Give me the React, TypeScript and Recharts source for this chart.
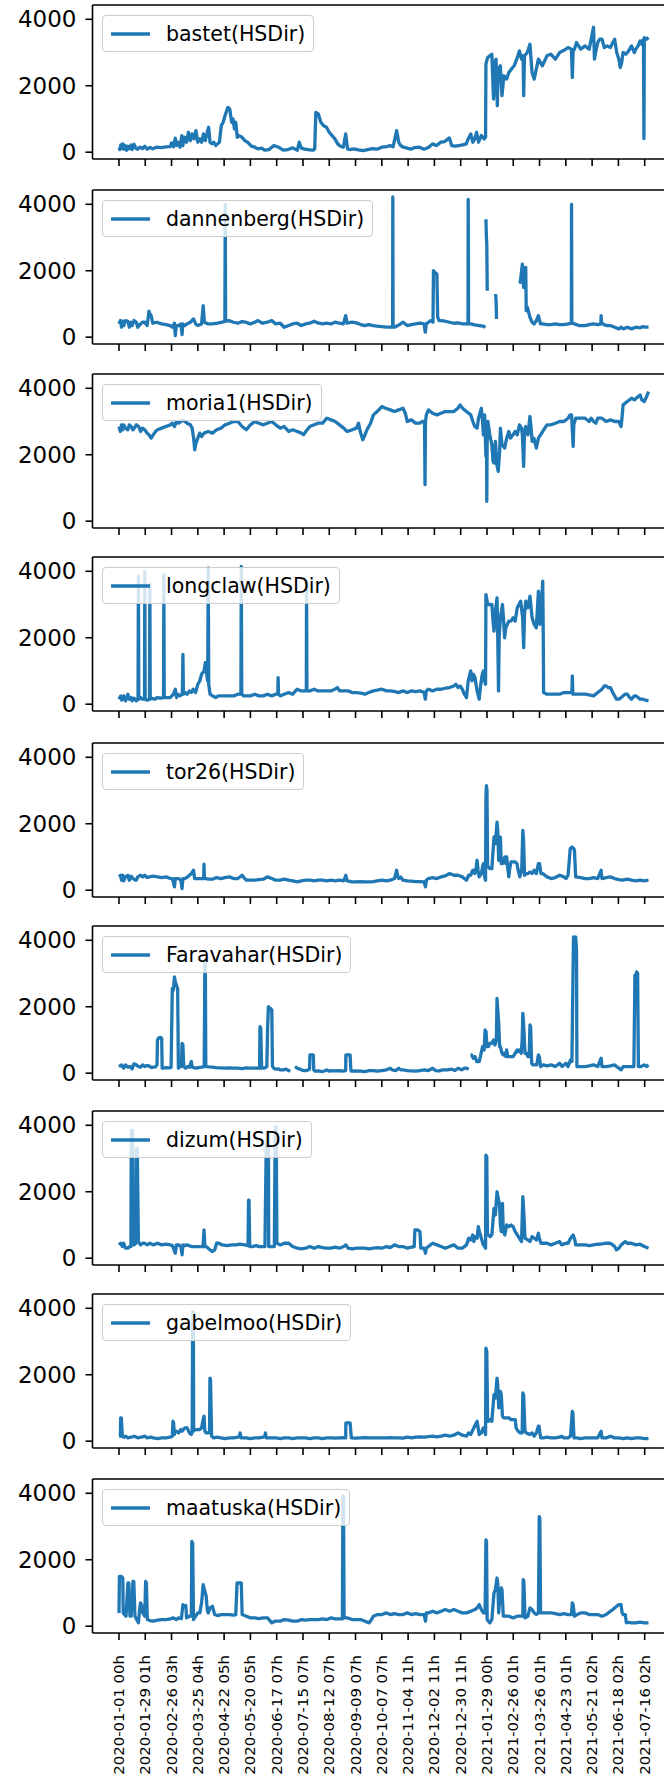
import React from 'react';
import { LineChart, Line, XAxis, YAxis, ReferenceLine } from 'recharts';

type Pt = [number, number | null];

const tickLabels = [
  '2020-01-01 00h', '2020-01-29 01h', '2020-02-26 03h', '2020-03-25 04h', '2020-04-22 05h',
  '2020-05-20 05h', '2020-06-17 07h', '2020-07-15 07h', '2020-08-12 07h', '2020-09-09 07h',
  '2020-10-07 07h', '2020-11-04 11h', '2020-12-02 11h', '2020-12-30 11h', '2021-01-29 00h',
  '2021-02-26 01h', '2021-03-26 01h', '2021-04-23 01h', '2021-05-21 02h', '2021-06-18 02h',
  '2021-07-16 02h',
];
const tickDays = tickLabels.map((_, i) => i * 28);
const yTicks = [0, 2000, 4000];

const bastet: Pt[] = [[0,130],[0.9,80],[2,220],[3,120],[4.1,250],[5,90],[6.5,200],[8,60],[9.5,180],[11,100],[13,220],[14,80],[16,240],[18,120],[20,90],[22,150],[25,110],[27.5,180],[30,90],[33,140],[36,100],[40,150],[45,140],[50,160],[54.6,170],[56,280],[58,160],[60,420],[61.3,200],[63,300],[65,150],[67,500],[68,200],[70,450],[72,300],[74,600],[76,350],[78,550],[80,400],[82,650],[84,300],[86,400],[88,300],[90,550],[92,350],[94,600],[95.5,750],[97,300],[99,250],[101,300],[103,200],[105,250],[107,300],[109,800],[111,900],[113,1100],[116,1350],[118,1300],[120,900],[121.5,1000],[123,700],[124.4,900],[126,450],[128,500],[131,450],[134,350],[137,300],[141,180],[144.7,150],[148,100],[152,120],[155,60],[160,80],[165,200],[170,150],[175,60],[180,80],[185,130],[190,60],[192,300],[194.3,120],[198,90],[203,70],[207,60],[208.5,100],[209.7,1200],[212.4,1150],[215,900],[218,800],[221,750],[224,600],[227,500],[230,400],[233,250],[236,180],[239,150],[241.5,550],[243.5,100],[246,80],[250,100],[255,70],[260,50],[265,80],[270,110],[275,90],[280,150],[285,170],[289,200],[292,160],[295.8,650],[298,300],[300,200],[303,150],[307,120],[311,90],[315,140],[320,150],[325,90],[330,150],[334,250],[338,200],[343,300],[347,320],[352,430],[354.4,200],[358,180],[362,200],[366,220],[370,250],[372,400],[374.7,550],[377,300],[379,400],[381,600],[383,300],[386,500],[389,400],[390.5,450],[390.9,2650],[392.7,2850],[395,2900],[397.2,2950],[399,1600],[400,2700],[401.7,2800],[403,1400],[404,2500],[406.3,2600],[408,1700],[410,2300],[413,2200],[415.3,2400],[418,2500],[421,2600],[425,2900],[426.6,3050],[428.8,2800],[430.5,2900],[431.1,1700],[432,2900],[435,3000],[437.8,3250],[440,2400],[442.3,2200],[446.8,2800],[451,2600],[455.9,2900],[460,2950],[464.9,2800],[469.4,3000],[473,3050],[478.4,3150],[482,3100],[482.9,2250],[483.8,3050],[485.2,3100],[487.4,3300],[491.9,3100],[496.4,3200],[500.9,3100],[505.5,3760],[506.5,2800],[507.7,3000],[510,3300],[512,3400],[514.5,3400],[517,3150],[520,3200],[523.5,3150],[526,3300],[528,3400],[530.2,3000],[532.5,2800],[534,2550],[535.5,2700],[537,3000],[540,2950],[543,3050],[546,3200],[549,3000],[550.6,3100],[553,3200],[555.1,3350],[557,3250],[558.7,3400],[559.2,410],[559.6,3450],[562,3400],[564.1,3450]];

const dannenberg: Pt[] = [[0,400],[1.5,500],[2.7,300],[4,480],[5,350],[7,500],[9.5,480],[11,300],[13,450],[14,350],[16,500],[18.5,450],[20,300],[23,400],[25,450],[27.5,450],[30,350],[32,780],[33,700],[34.3,650],[36,420],[40,450],[45.5,400],[50,380],[54.6,350],[57,300],[59.1,420],[60,50],[61,350],[63.6,350],[66,400],[67.2,80],[68,400],[70,350],[72.6,400],[76,450],[79.4,550],[81.6,400],[83.9,350],[88,400],[89.7,950],[91,450],[95,400],[99.6,400],[105,420],[110,450],[112.8,480],[113.2,4000],[113.6,480],[117,500],[122,450],[126.7,420],[131,470],[135,450],[140,400],[144.7,450],[148,500],[153,420],[158,450],[162.8,500],[167,400],[171.8,420],[176,300],[180.8,350],[185,400],[189.9,420],[194,350],[198.9,400],[203,420],[207.9,480],[212,430],[216.9,400],[221,420],[225.9,400],[230,450],[234.9,420],[239,400],[241.5,650],[243,420],[248,450],[253,430],[257.5,380],[262,350],[266,380],[271,350],[275,330],[280,320],[285,300],[289,300],[291.5,300],[291.7,4220],[292,300],[293.5,300],[297,350],[300,400],[302.6,450],[307,350],[311.6,380],[316,400],[320.6,420],[325,400],[326.3,150],[327.4,400],[329.6,450],[332,500],[334.5,450],[335,2000],[336.5,1950],[338.6,1900],[339.5,600],[341,500],[343.1,500],[347.6,480],[352.2,450],[356.7,420],[361.2,430],[366,400],[370,400],[371.8,420],[372,4150],[372.4,400],[374.7,400],[379,370],[383.7,350],[388,330],[390.5,300],[390.7,null],[390.9,3550],[391.4,3000],[391.8,2800],[392.3,1400],[392.6,null],[401.2,1300],[401.7,1100],[402.2,550],[402.5,null],[426.6,1700],[427.5,1650],[429.7,2200],[431,1500],[433.3,2100],[433.8,800],[435,900],[437.8,600],[440,450],[442.3,400],[444.6,500],[446.8,650],[449,400],[451.4,400],[455.9,380],[460.4,380],[464.9,400],[469.4,380],[473.9,380],[478.4,400],[481.9,420],[482.1,4000],[482.4,420],[485.2,400],[490,350],[496.4,350],[500.9,380],[505.5,400],[510,380],[513.3,400],[513.6,650],[514,420],[516.7,380],[520,350],[523.5,350],[528,300],[532.5,250],[535,300],[537,250],[541.5,300],[546,250],[550.6,300],[555,280],[558,320],[560,300],[564.1,300]];

const moria1: Pt[] = [[0,2850],[1.5,2700],[2.7,2900],[4,2750],[5,2900],[7,2800],[9.5,2750],[11,2900],[13,2850],[15,2750],[18.5,2900],[21,2850],[23,2700],[25,2800],[27.5,2750],[30,2650],[32,2600],[34.3,2500],[36.5,2600],[39,2700],[41,2750],[45.5,2800],[50,2850],[54.6,2900],[57,2950],[59,2850],[61.3,3000],[63.6,2950],[68,3050],[72.6,2950],[76,2900],[78,2800],[79.5,2500],[80.7,2150],[81.6,2300],[83.9,2500],[86,2650],[88,2550],[90.6,2650],[95,2700],[99.6,2650],[104,2750],[108.7,2800],[113,2900],[117.7,2950],[122,3000],[126.7,3000],[131.2,2850],[135.7,2750],[140,2900],[144.7,3000],[149,2950],[153.8,2900],[158,2950],[162.8,3000],[167,2900],[171.8,2800],[176,2850],[180.8,2700],[185,2750],[189.9,2700],[194.3,2650],[196.6,2600],[199,2700],[203.4,2850],[207.9,2900],[212,2950],[216.9,2950],[221.4,3100],[225.9,3050],[230.4,3000],[234.9,2900],[239.4,2800],[243,2700],[248.4,2750],[253,2800],[255.2,2950],[257,2700],[259.7,2450],[262,2600],[264.2,2750],[268,2950],[271,3200],[275,3300],[280,3450],[284,3400],[289,3350],[293.5,3300],[298,3350],[302.6,3400],[305,3250],[307.1,3000],[311.6,3050],[316,2950],[320.6,2950],[323,3000],[325.5,3000],[326,1100],[326.5,3000],[327.4,3200],[329.6,3350],[334,3250],[338.6,3200],[343.1,3250],[347.6,3300],[352.2,3300],[356.7,3300],[361,3400],[363.4,3500],[366,3400],[370.2,3300],[374.7,3200],[377,3000],[379,2850],[381.5,2800],[383,3100],[386,3400],[387.3,3000],[388.2,2600],[389.5,3200],[390.9,1950],[391.5,3000],[391.8,600],[392.3,2800],[393,3000],[395,2600],[397.2,2300],[398.5,1800],[399.5,1750],[401,2400],[402.5,1700],[404,1500],[405.5,2100],[406.3,2800],[408,2300],[410.8,2200],[413,2500],[415.3,2700],[417,2500],[419.8,2600],[422,2700],[424.3,2600],[426.6,2900],[428.8,2800],[429.7,2600],[431.1,1650],[432,2700],[433.3,2850],[435.6,2600],[437.8,3150],[439,2800],[440.1,2400],[442,2500],[444.6,2200],[446.8,2500],[449,2600],[451.4,2700],[455.9,2900],[460.4,2900],[464.9,2950],[469.4,3000],[473.9,3000],[478.4,3100],[480.5,3200],[482.1,3200],[483.8,2250],[484.5,2900],[486.5,3100],[491.9,3100],[496.4,3100],[500.9,3000],[503,3100],[505.5,3000],[508,2950],[510,3100],[514.5,3100],[519,3000],[523.5,3050],[528,3000],[532.5,3000],[534.8,2850],[535.5,3000],[537,3500],[541.5,3600],[546,3700],[549,3650],[551,3700],[555.1,3800],[557,3650],[559.6,3600],[562,3750],[564.1,3900]];

const longclaw: Pt[] = [[0,150],[1.8,250],[3,120],[5,250],[7,100],[9.5,300],[11,150],[13,200],[14,100],[16,180],[18.5,100],[20.3,150],[20.7,3850],[21.1,150],[23,200],[25,150],[27.2,150],[27.5,4000],[27.9,150],[30,120],[32.5,150],[32.9,3600],[33.3,150],[35,180],[38,150],[41,200],[44,180],[47.5,200],[47.8,3900],[48.2,200],[51,200],[54.6,200],[58,300],[60,450],[61.3,200],[63,300],[65,250],[67.5,300],[68.1,1500],[68.7,300],[70.3,350],[72.6,300],[75,400],[77.1,350],[79,450],[81.6,350],[84,600],[86.1,700],[88,900],[90.6,1000],[92,1250],[93,1000],[94.5,700],[95.1,4100],[95.6,600],[97,300],[99.6,250],[103,200],[106,250],[108.7,250],[113,250],[117.7,250],[122,250],[126.7,300],[129.9,300],[130.3,4150],[130.8,300],[133,250],[135.7,250],[140,250],[144.7,300],[149,250],[153.8,250],[158,300],[162.8,250],[167,300],[169.2,300],[169.5,800],[170,300],[171.8,250],[176,300],[180.8,350],[185,300],[189.9,450],[194,400],[198.9,400],[199.6,400],[199.8,3700],[200.2,400],[203.4,400],[207.9,450],[212,400],[216.9,400],[221.4,400],[225.9,400],[230,450],[232.7,500],[234.9,400],[239.4,400],[244,400],[248.4,350],[253,350],[257.5,330],[262,300],[266,350],[271,400],[275,420],[280,450],[285,400],[289,400],[294,380],[298,350],[302.6,400],[307,350],[311.6,400],[316,380],[320.6,400],[325.1,350],[326.3,150],[327.4,400],[329.6,450],[334,400],[338.6,450],[343.1,450],[347.6,480],[352.2,500],[356.7,550],[358.9,600],[361.2,500],[363.4,550],[365.7,450],[368,300],[370.2,200],[372,700],[374.7,1000],[376,700],[377.5,900],[379.2,800],[381.5,400],[383.7,150],[385,500],[387,900],[388.2,1000],[389.5,700],[390.5,600],[390.9,3300],[392.7,3000],[395,3000],[397.2,3000],[398.5,2500],[399.5,2200],[401,2800],[402.7,3200],[403.5,2000],[404.3,400],[405,2000],[406.3,2600],[408.5,3000],[410,2400],[410.8,2000],[412,2300],[415.3,2500],[417.6,2500],[419.8,2600],[422,2500],[424.3,2900],[426,3000],[427.9,3100],[430,2600],[431.1,1700],[432,2700],[433.3,3100],[435.6,2900],[437.8,3250],[440.1,2600],[442.3,2400],[444.6,2300],[446.8,3400],[448.5,2400],[449.5,2800],[451.4,3700],[452,2000],[452.3,350],[455.9,300],[460.4,300],[464.9,300],[469.4,300],[473.9,350],[478.4,350],[482.5,350],[482.9,850],[483.5,300],[485.6,300],[491.9,300],[496.4,300],[500.9,280],[505.5,250],[510,350],[514.5,450],[517,550],[519,550],[521,500],[523.5,500],[526,350],[528,250],[530,150],[532.5,150],[535,200],[537,250],[539,300],[541.5,300],[544,200],[546,150],[549,250],[550.6,250],[553,200],[555.1,150],[558,150],[561,120],[564.1,100]];

const tor26: Pt[] = [[0,400],[1.8,450],[2.7,300],[4.1,450],[5,280],[7,400],[9.5,450],[11,300],[13,420],[15,350],[17.6,300],[18.5,300],[20,400],[23,450],[25.3,400],[27.5,450],[30,380],[32,400],[36.5,420],[41,400],[45.5,380],[50,400],[54.6,350],[57,350],[59.1,100],[60,350],[63.6,350],[66,300],[67.2,50],[68,350],[70.3,350],[73,400],[77.1,500],[79.4,600],[80.5,350],[83.9,350],[88,350],[90.2,350],[90.6,780],[91,350],[92.9,350],[95,330],[99.6,330],[104,380],[108.7,350],[113,380],[117.7,400],[122,350],[126.7,350],[131.2,450],[133,380],[135.7,300],[140,300],[144.7,300],[149,320],[153.8,330],[158,400],[162.8,350],[167,300],[171.8,300],[176,330],[180.8,300],[185,280],[189.9,250],[194.3,280],[198.9,300],[203.4,300],[207.9,280],[212.4,300],[216.9,300],[221.4,280],[225.9,300],[230.4,280],[234.9,300],[239.4,280],[241.7,450],[243,280],[248.4,250],[253,250],[257.5,260],[262,250],[266.5,250],[271,260],[275,280],[280,300],[285,280],[289,300],[293.5,350],[295.8,600],[297,400],[298,350],[300,400],[302.6,300],[307.1,280],[311.6,270],[316,260],[320.6,260],[325.1,250],[326.5,100],[327.4,300],[329.6,350],[334,380],[338.6,350],[343.1,400],[347.6,430],[352.2,500],[356.7,450],[361.2,450],[365.7,400],[370.2,300],[372.5,450],[374.7,450],[376.9,600],[379.2,500],[380.5,700],[381.5,900],[382.5,600],[383.7,400],[386,500],[387.3,700],[388.2,800],[389.5,400],[390.5,300],[390.9,2800],[391.4,3150],[392,3000],[392.7,700],[393.6,700],[395,650],[397.2,650],[399.5,1600],[401,1400],[402.7,2050],[403.5,1800],[404.5,900],[406.3,1600],[407.2,800],[408.5,800],[410,900],[411,1000],[412,800],[413,1000],[414,700],[415.3,400],[416,600],[417.6,850],[419.8,850],[422.1,850],[424,800],[425.2,600],[427,400],[429,600],[430.2,1800],[431,1500],[432,450],[434,500],[435.6,500],[437.8,550],[440,500],[442.3,600],[444.6,500],[446.8,800],[448,800],[449.5,500],[451.4,500],[455.9,400],[460.4,350],[464.9,380],[469.4,450],[473.9,400],[476.2,350],[478.4,450],[480.7,1250],[482.5,1300],[484.5,1250],[485.2,1200],[486.5,400],[491.9,380],[496.4,350],[500.9,350],[505.5,380],[510,350],[513.6,600],[514.5,350],[519,380],[523.5,400],[528,350],[532.5,320],[537,300],[541.5,330],[546,300],[550.6,280],[555.1,300],[559.6,280],[564.1,300]];

const faravahar: Pt[] = [[0,200],[2.7,250],[5,150],[7,250],[9.5,180],[12,200],[14,130],[16,280],[18.5,250],[20.7,200],[23,180],[25.3,250],[27.5,200],[30,230],[32,220],[34.3,170],[36.5,180],[39,190],[40.5,250],[41,1000],[42,1050],[44,1080],[45.5,1050],[46,150],[47.8,150],[50,170],[53,160],[55.5,170],[56.8,2550],[58,2500],[59.1,2900],[60,2750],[61.8,2600],[62.5,2550],[63.3,150],[65,200],[66.5,200],[67.2,900],[68.1,850],[69,200],[71,150],[73,200],[75,180],[77.1,350],[78,180],[81.6,150],[85,170],[88,180],[90.8,200],[91.5,3400],[92,3300],[92.5,200],[93.3,200],[96,190],[99.6,180],[103,170],[108.7,160],[113,150],[117.7,160],[122,150],[126.7,150],[131.2,140],[135.7,160],[140,150],[144.7,150],[149,150],[149.8,150],[150.2,1400],[151,1350],[152,150],[155,150],[157.5,200],[158.3,1350],[159.2,2000],[160,1950],[161.5,1950],[162.8,1900],[163.5,200],[165,150],[167,120],[170,130],[171.8,100],[175,100],[178,120],[180.8,80],[182.6,60],[183,null],[187.6,200],[189.9,150],[192,130],[194.3,100],[197,80],[200,80],[203,120],[203.4,550],[205,550],[207,550],[207.5,100],[208.8,60],[212,70],[216.9,50],[220,80],[221.4,100],[224,60],[225.9,80],[230,70],[234.9,80],[238,60],[241.5,80],[241.7,550],[244,550],[246.2,550],[247,100],[247.5,60],[252,70],[257.5,60],[262,50],[266.5,80],[271,80],[275,60],[280,80],[285,100],[289,150],[291,100],[295,80],[298,150],[300,100],[302.6,100],[307,80],[311.6,70],[316,60],[320.6,80],[325.1,100],[329.6,80],[334.1,150],[337,80],[341,70],[345,100],[350,100],[354.4,120],[358,80],[361.2,150],[365,100],[368,150],[370.2,150],[372.5,120],[373.3,null],[374.5,550],[375.6,550],[377.5,450],[379.2,500],[381,350],[383.7,350],[385,500],[387.3,800],[388.2,750],[389,700],[390,1300],[391,1250],[392,800],[393.6,800],[395,900],[397,900],[399,1000],[400.5,850],[402,1000],[402.7,2250],[403.3,2000],[404.5,1500],[405.5,800],[406.3,800],[408,600],[409.4,550],[410.8,600],[412,500],[413,700],[414,500],[415.3,500],[417.6,500],[419.8,500],[422.1,600],[424.3,700],[425.2,650],[426.6,700],[428.5,600],[429.5,1000],[430.2,1800],[431,1500],[432.5,600],[434,600],[435.6,500],[437,500],[437.8,1450],[438.5,1400],[439.6,300],[441,250],[443,250],[445,250],[446.8,550],[447.7,500],[449.1,200],[452,250],[455.9,220],[460.4,250],[464.9,200],[469.4,300],[472,200],[476.2,300],[478.4,200],[481,400],[482.5,350],[483.8,3300],[484.2,4100],[485.2,4050],[486.5,4100],[487.4,3700],[487.8,200],[488.3,200],[491.9,200],[496.4,200],[500.9,220],[505.5,250],[510,200],[513.6,450],[514.5,200],[519,200],[523.5,220],[528,250],[530,200],[532.5,150],[535,100],[537,200],[541.5,200],[546,200],[548.5,200],[549.6,2950],[550.5,2950],[551.5,3050],[552.5,3000],[553.3,200],[556,200],[559.6,250],[562,200],[564.1,250]];

const dizum: Pt[] = [[0,400],[1.8,450],[3.6,350],[5,450],[7,300],[9.5,300],[11,350],[12.7,350],[13.1,3850],[14.5,3850],[15,400],[16.2,400],[18,450],[18.5,3300],[19.5,3300],[20.7,500],[23,400],[25.3,450],[27.5,450],[30,400],[33,450],[36.5,400],[41,450],[45.5,400],[50,420],[54.6,400],[57,380],[60,150],[61.3,400],[63.6,400],[66,350],[67.2,100],[68.1,400],[70.3,380],[72.6,400],[77.1,350],[81,350],[86.1,350],[89.5,350],[90.6,850],[91.5,350],[92.9,350],[95.1,300],[97,250],[99.6,200],[102,250],[104,450],[106.4,450],[110,400],[115,380],[120,400],[125,400],[129,420],[134,400],[137.5,380],[138,1750],[138.5,1750],[139.3,350],[142,350],[146,380],[149.2,350],[153,350],[155.5,350],[156.9,3500],[157.5,3400],[158.3,3800],[159.2,3800],[159.5,350],[162.8,350],[165.5,350],[166.4,3950],[167.5,3950],[168.2,450],[172,400],[176,450],[180.8,450],[185,350],[189.9,300],[194.3,280],[198.9,300],[203.4,350],[207.9,300],[212.4,350],[216.9,320],[221.4,300],[225.9,300],[230.4,330],[234.9,300],[239.4,350],[241.7,400],[244,300],[248.4,280],[253,300],[257.5,300],[262,300],[266.5,280],[271,300],[275,320],[280,300],[285,350],[289,320],[293.5,400],[298,350],[302.6,350],[307.1,300],[311.6,330],[314.5,350],[315.2,850],[318,850],[320.6,800],[321.5,300],[325.1,300],[326.5,150],[327.4,300],[329.6,350],[334.1,450],[338.6,400],[343.1,350],[347.6,300],[352.2,350],[356.7,400],[361.2,300],[365.7,300],[370.2,400],[372.5,600],[374.7,550],[376.9,700],[378,500],[379.2,650],[381.5,600],[382.8,950],[384,800],[386,600],[388.2,400],[390.5,300],[390.9,3100],[391.8,3050],[392.5,700],[393.6,700],[395.5,650],[397.2,700],[399.5,1500],[401,1300],[402.7,2000],[404,1800],[405.4,1600],[406.3,1000],[407.2,800],[408.5,1650],[409.4,800],[411,700],[413,1000],[415.3,950],[417.6,1000],[419.8,950],[422.1,800],[424.3,700],[426.6,600],[428.8,500],[430.2,1850],[431,1500],[432.5,600],[435.6,550],[437.8,500],[440,650],[442.3,600],[444.6,550],[446.8,750],[447.7,600],[449.5,450],[451.4,450],[455.9,450],[460.4,400],[464.9,450],[469.4,500],[471.6,400],[476.2,450],[478.4,450],[481,600],[483.8,700],[485.6,550],[486.5,400],[491.9,400],[496.4,400],[500.9,380],[505.5,400],[510,420],[514.5,430],[519,450],[523.5,450],[526,400],[528,350],[530,250],[532.5,300],[535,400],[537,450],[539.3,500],[541.5,450],[546,450],[550.6,400],[555.1,420],[559.6,350],[564.1,300]];

const gabelmoo: Pt[] = [[0,150],[1.5,150],[1.8,700],[2.5,700],[3.6,150],[5,120],[7,150],[9.5,100],[13,120],[16,150],[20,100],[25,130],[27.5,150],[30,100],[34,120],[36.5,100],[41,80],[45.5,100],[50,100],[54.6,120],[56.8,150],[57.5,600],[58.2,550],[59,200],[60,300],[61.3,300],[63.6,250],[65.8,350],[67.2,300],[70,400],[72.6,400],[75,250],[77.1,200],[78,300],[78.5,3900],[79.2,3900],[79.6,300],[80.7,350],[83.9,350],[86.1,350],[88,400],[89.7,650],[90.6,750],[91.5,300],[92.9,250],[95,250],[96.5,250],[96.9,1900],[97.5,1850],[98.7,150],[101,100],[104,120],[108.7,100],[113,80],[117.7,100],[122,100],[126.7,120],[128.5,150],[129,250],[130,100],[135.7,100],[140,80],[144.7,100],[149,100],[153.8,120],[155.5,150],[156,250],[156.8,100],[162.8,100],[167,100],[171.8,80],[176,100],[180.8,100],[185,80],[189.9,100],[194.3,100],[198.9,100],[203.4,80],[207.9,100],[212.4,100],[216.9,80],[221.4,100],[225.9,100],[230.4,90],[234.9,100],[239.4,110],[241.5,100],[241.7,550],[244,550],[246.2,550],[247.5,100],[252,90],[257.5,100],[262,110],[266.5,100],[271,100],[275,100],[280,100],[285,100],[289,110],[293.5,100],[298,100],[302.6,90],[307.1,120],[311.6,100],[316,120],[320.6,130],[325.1,120],[329.6,140],[334.1,150],[338.6,130],[343.1,150],[347.6,180],[352.2,150],[356.7,180],[361.2,250],[365.7,180],[370.2,150],[372.5,250],[374.7,200],[378,400],[381.5,600],[383.7,200],[386,250],[388.2,400],[389.5,300],[390.5,200],[390.9,2800],[391.8,2700],[392.7,600],[393.6,600],[395.5,650],[397.2,600],[399.5,1400],[401,1300],[402.7,1900],[403.5,1700],[404.5,1000],[406.3,1500],[407.2,1400],[408.5,750],[410,700],[413,700],[415.3,700],[417.6,650],[420,650],[422.1,650],[423,400],[425.2,300],[427.5,250],[429.5,250],[430.2,1450],[431,1400],[432.5,300],[434,250],[437.8,200],[440,250],[442.3,150],[444.6,250],[446.8,450],[447.5,450],[449.1,100],[452,100],[455.9,120],[460.4,100],[464.9,100],[469.4,120],[471.6,150],[474,100],[478.4,100],[481,150],[482.9,900],[483.5,850],[484.7,100],[488,100],[491.9,80],[496.4,100],[500.9,100],[505.5,100],[510,100],[513.6,300],[514.5,100],[519,100],[523.5,150],[528,100],[532.5,100],[537,80],[541.5,100],[546,80],[550.6,100],[555.1,100],[559.6,80],[564.1,80]];

const maatuska: Pt[] = [[0,400],[0.5,1500],[2.5,1500],[4.1,1450],[4.5,400],[6,350],[7.5,300],[9.5,1300],[10.5,1300],[11.7,300],[13,300],[14.9,1350],[15.8,1350],[17,300],[18,250],[20.7,100],[22,500],[23,700],[24.5,600],[25.3,400],[27.5,300],[28.4,1350],[29.2,1300],[30.2,200],[33,170],[36.5,150],[41,180],[45.5,200],[50,200],[54.6,220],[58,250],[61,200],[63.6,250],[66.5,230],[68.1,650],[70,600],[71.2,620],[72,250],[75,300],[77.1,300],[77.6,2550],[78.5,2500],[79.4,200],[81.6,300],[84,400],[86.1,400],[88,700],[89.7,1250],[91,1100],[92.9,900],[94,500],[95.1,400],[97,550],[99.6,600],[101.9,350],[105,320],[108.7,350],[113,350],[117.7,350],[122,330],[124.4,350],[125.8,1300],[128,1300],[130.3,1300],[131.2,350],[135.7,300],[140,250],[144.7,250],[149,230],[153.8,250],[158.3,250],[162.8,100],[166,150],[171.8,150],[176,200],[180.8,180],[185,150],[189.9,150],[194.3,200],[198.9,180],[203.4,200],[207.9,200],[212.4,200],[216.9,220],[221.4,200],[225.9,250],[230.4,220],[234.9,220],[238,220],[238.5,3920],[239.2,3900],[239.8,250],[243,250],[248.4,200],[253,200],[257.5,200],[262,150],[266.5,100],[269,200],[271,300],[275.5,350],[280,350],[285,400],[289,350],[293.5,380],[298,350],[302.6,350],[307.1,400],[311.6,350],[316,380],[320.6,350],[325.1,350],[326.5,150],[327.4,400],[329.6,400],[334.1,450],[338.6,400],[343.1,450],[347.6,500],[352.2,450],[356.7,500],[361.2,450],[365.7,400],[370.2,400],[374.7,450],[379.2,500],[381.5,550],[383.7,650],[386,500],[388.2,400],[390,400],[390.9,2600],[391.5,2550],[392.2,200],[393.6,150],[395,100],[397.2,200],[399.5,1000],[401,1100],[402.7,1450],[403.5,1300],[404.5,400],[405.5,800],[407.2,1150],[408,1100],[409.4,300],[413,300],[415.3,300],[419.8,250],[424.3,300],[428.8,300],[430.2,300],[430.6,1400],[431.3,1350],[432.5,250],[435.6,300],[437.8,550],[440,500],[442.3,400],[444.6,350],[446.8,400],[447.7,3300],[448.3,3250],[449.1,400],[451.4,400],[455.9,400],[460.4,400],[464.9,380],[469.4,350],[473.9,380],[478.4,350],[482,350],[482.9,700],[483.8,650],[485.2,300],[488,350],[491.9,400],[496.4,400],[500.9,350],[505.5,350],[510,350],[514.5,300],[519,350],[523.5,450],[526,500],[528,550],[530.2,600],[532.5,650],[534.8,650],[536,400],[537,350],[539.3,350],[540.5,100],[541.5,120],[546,100],[550.6,100],[555.1,120],[559.6,100],[564.1,100]];

const panels = [
  { name: 'bastet(HSDir)', data: bastet },
  { name: 'dannenberg(HSDir)', data: dannenberg },
  { name: 'moria1(HSDir)', data: moria1 },
  { name: 'longclaw(HSDir)', data: longclaw },
  { name: 'tor26(HSDir)', data: tor26 },
  { name: 'Faravahar(HSDir)', data: faravahar },
  { name: 'dizum(HSDir)', data: dizum },
  { name: 'gabelmoo(HSDir)', data: gabelmoo },
  { name: 'maatuska(HSDir)', data: maatuska },
];

const FONT = '"DejaVu Sans", Verdana, sans-serif';
const BLUE = '#1f77b4';
const X_DOMAIN: [number, number] = [-28.2, 592.3];
const Y_DOMAIN: [number, number] = [-205, 4430];
const PLOT_TOPS = [5, 190, 374, 557, 743, 926, 1111, 1294, 1479];
const PLOT_H = 154;
const Y_AXIS_W = 92.5;
const PLOT_W = 582.5;
const CHART_W = 700;
const TOP_PAD = 10;

const YTick = (props: any) => {
  const { x, y, payload } = props;
  return (
    <text x={x} y={y} textAnchor="end" dominantBaseline="central" fontSize={23} fontFamily={FONT} fill="#000">
      {payload.value}
    </text>
  );
};

const XTickLabel = (props: any) => {
  const { x, y, payload } = props;
  const idx = Math.round(payload.value / 28);
  return (
    <text
      transform={`translate(${x},${y}) rotate(-90)`}
      textAnchor="end"
      dominantBaseline="central"
      fontSize={14.9}
      fontFamily={FONT}
      fill="#000"
    >
      {tickLabels[idx]}
    </text>
  );
};

const EmptyTick = () => <g />;

const Panel = ({ name, data, last }: { name: string; data: Pt[]; last: boolean }) => {
  const rows = data.map(([x, y]) => ({ x, y }));
  const xAxisH = last ? 142 : 12;
  return (
    <div style={{ position: 'relative', width: CHART_W, height: TOP_PAD + PLOT_H + xAxisH }}>
      <LineChart
        width={CHART_W}
        height={TOP_PAD + PLOT_H + xAxisH}
        data={rows}
        margin={{ top: TOP_PAD, right: CHART_W - Y_AXIS_W - PLOT_W, bottom: 0, left: 0 }}
      >
        <XAxis
          dataKey="x"
          type="number"
          domain={X_DOMAIN}
          ticks={tickDays}
          allowDataOverflow
          height={xAxisH}
          tickSize={7}
          tickMargin={15}
          axisLine={{ stroke: '#000', strokeWidth: 1.6 }}
          tickLine={{ stroke: '#000', strokeWidth: 1.6 }}
          tick={last ? <XTickLabel /> : <EmptyTick />}
          interval={0}
        />
        <YAxis
          type="number"
          domain={Y_DOMAIN}
          ticks={yTicks}
          allowDataOverflow
          width={Y_AXIS_W}
          tickSize={7}
          tickMargin={9}
          axisLine={{ stroke: '#000', strokeWidth: 1.6 }}
          tickLine={{ stroke: '#000', strokeWidth: 1.6 }}
          tick={<YTick />}
          interval={0}
        />
        <ReferenceLine y={Y_DOMAIN[1]} stroke="#000" strokeWidth={1.6} />
        <Line
          type="linear"
          dataKey="y"
          stroke={BLUE}
          strokeWidth={3.3}
          dot={false}
          activeDot={false}
          connectNulls={false}
          isAnimationActive={false}
          strokeLinejoin="round"
        />
      </LineChart>
      <div
        style={{
          position: 'absolute',
          left: 102,
          top: TOP_PAD + 10,
          height: 37,
          boxSizing: 'border-box',
          padding: '0 8px',
          display: 'flex',
          alignItems: 'center',
          background: 'rgba(255,255,255,0.8)',
          border: '1px solid #cccccc',
          borderRadius: 4,
          fontFamily: FONT,
          fontSize: 20.5,
          color: '#000',
          whiteSpace: 'nowrap',
        }}
      >
        <svg width={39} height={6} style={{ marginRight: 16 }}>
          <line x1={0} y1={3} x2={39} y2={3} stroke={BLUE} strokeWidth={3.3} />
        </svg>
        <span>{name}</span>
      </div>
    </div>
  );
};

export default function App() {
  return (
    <div
      style={{
        position: 'absolute',
        left: 0,
        top: 0,
        width: 664,
        height: 1775,
        overflow: 'hidden',
        background: '#fff',
      }}
    >
      {panels.map((p, i) => (
        <div key={p.name} style={{ position: 'absolute', left: 0, top: PLOT_TOPS[i] - TOP_PAD }}>
          <Panel name={p.name} data={p.data} last={i === panels.length - 1} />
        </div>
      ))}
    </div>
  );
}
